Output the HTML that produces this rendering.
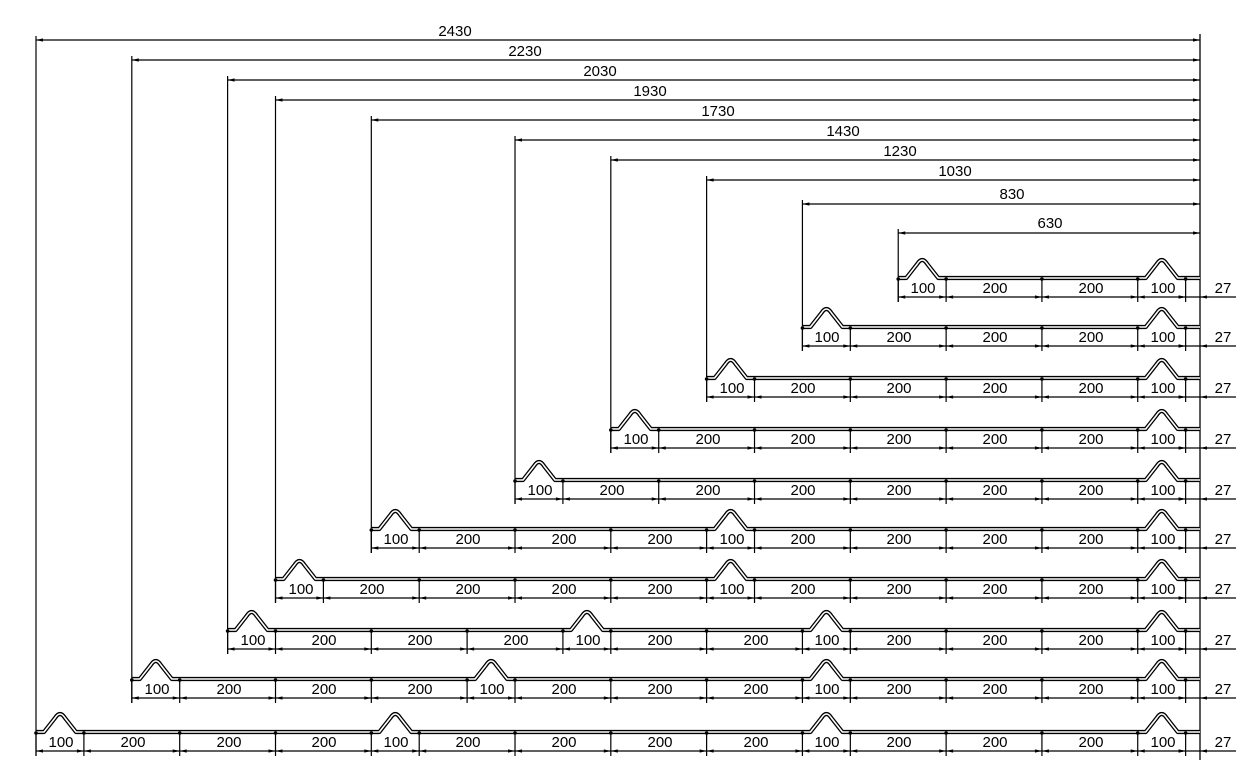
<!DOCTYPE html>
<html><head><meta charset="utf-8"><style>
html,body{margin:0;padding:0;background:#fff;}
svg{display:block;}
text{font-family:"Liberation Sans",Arial,sans-serif;font-size:15px;fill:#000;text-anchor:middle;}
</style></head><body>
<svg id="s" width="1253" height="766" viewBox="0 0 1253 766" xmlns="http://www.w3.org/2000/svg">
<g id="g"></g>
<g id="t">
<text x="455" y="36">2430</text>
<text x="525" y="56">2230</text>
<text x="600" y="76">2030</text>
<text x="650" y="96">1930</text>
<text x="718" y="116">1730</text>
<text x="843" y="136">1430</text>
<text x="900" y="156">1230</text>
<text x="955" y="176">1030</text>
<text x="1012" y="199">830</text>
<text x="1050" y="228">630</text>

<text x="923" y="293">100</text><text x="995" y="293">200</text><text x="1091" y="293">200</text><text x="1163" y="293">100</text><text x="1223" y="293">27</text>

<text x="827" y="342">100</text><text x="899" y="342">200</text><text x="995" y="342">200</text><text x="1091" y="342">200</text><text x="1163" y="342">100</text><text x="1223" y="342">27</text>

<text x="732" y="393">100</text><text x="803" y="393">200</text><text x="899" y="393">200</text><text x="995" y="393">200</text><text x="1091" y="393">200</text><text x="1163" y="393">100</text><text x="1223" y="393">27</text>

<text x="636" y="444">100</text><text x="708" y="444">200</text><text x="803" y="444">200</text><text x="899" y="444">200</text><text x="995" y="444">200</text><text x="1091" y="444">200</text><text x="1163" y="444">100</text><text x="1223" y="444">27</text>

<text x="540" y="495">100</text><text x="612" y="495">200</text><text x="708" y="495">200</text><text x="803" y="495">200</text><text x="899" y="495">200</text><text x="995" y="495">200</text><text x="1091" y="495">200</text><text x="1163" y="495">100</text><text x="1223" y="495">27</text>

<text x="396" y="544">100</text><text x="468" y="544">200</text><text x="564" y="544">200</text><text x="660" y="544">200</text><text x="732" y="544">100</text><text x="803" y="544">200</text><text x="899" y="544">200</text><text x="995" y="544">200</text><text x="1091" y="544">200</text><text x="1163" y="544">100</text><text x="1223" y="544">27</text>

<text x="301" y="594">100</text><text x="372" y="594">200</text><text x="468" y="594">200</text><text x="564" y="594">200</text><text x="660" y="594">200</text><text x="732" y="594">100</text><text x="803" y="594">200</text><text x="899" y="594">200</text><text x="995" y="594">200</text><text x="1091" y="594">200</text><text x="1163" y="594">100</text><text x="1223" y="594">27</text>

<text x="253" y="645">100</text><text x="324" y="645">200</text><text x="420" y="645">200</text><text x="516" y="645">200</text><text x="588" y="645">100</text><text x="660" y="645">200</text><text x="756" y="645">200</text><text x="827" y="645">100</text><text x="899" y="645">200</text><text x="995" y="645">200</text><text x="1091" y="645">200</text><text x="1163" y="645">100</text><text x="1223" y="645">27</text>

<text x="157" y="694">100</text><text x="229" y="694">200</text><text x="324" y="694">200</text><text x="420" y="694">200</text><text x="492" y="694">100</text><text x="564" y="694">200</text><text x="660" y="694">200</text><text x="756" y="694">200</text><text x="827" y="694">100</text><text x="899" y="694">200</text><text x="995" y="694">200</text><text x="1091" y="694">200</text><text x="1163" y="694">100</text><text x="1223" y="694">27</text>

<text x="61" y="747">100</text><text x="133" y="747">200</text><text x="229" y="747">200</text><text x="324" y="747">200</text><text x="396" y="747">100</text><text x="468" y="747">200</text><text x="564" y="747">200</text><text x="660" y="747">200</text><text x="756" y="747">200</text><text x="827" y="747">100</text><text x="899" y="747">200</text><text x="995" y="747">200</text><text x="1091" y="747">200</text><text x="1163" y="747">100</text><text x="1223" y="747">27</text>
</g>
</svg>
<script>
(function(){
var s=1164/2430, R=1200, g=document.getElementById('g'), ns='http://www.w3.org/2000/svg';
function el(n,a){var e=document.createElementNS(ns,n);for(var k in a)e.setAttribute(k,a[k]);g.appendChild(e);return e;}
function line(x1,y1,x2,y2,w){el('line',{x1:x1,y1:y1,x2:x2,y2:y2,stroke:'#000','stroke-width':w||1.2});}
function arrow(x,y,dir){
  el('polygon',{points:x+','+y+' '+(x-dir*7)+','+(y-1.6)+' '+(x-dir*7)+','+(y+1.6),fill:'#000'});}
var rows=[
 [630,297,[1,2,2,1]],
 [830,346,[1,2,2,2,1]],
 [1030,397,[1,2,2,2,2,1]],
 [1230,448,[1,2,2,2,2,2,1]],
 [1430,499,[1,2,2,2,2,2,2,1]],
 [1730,548,[1,2,2,2,1,2,2,2,2,1]],
 [1930,598,[1,2,2,2,2,1,2,2,2,2,1]],
 [2030,649,[1,2,2,2,1,2,2,1,2,2,2,1]],
 [2230,698,[1,2,2,2,1,2,2,2,1,2,2,2,1]],
 [2430,751,[1,2,2,2,1,2,2,2,2,1,2,2,2,1]]
];
var topY={630:233,830:204,1030:180,1230:160,1430:140,1730:120,1930:100,2030:80,2230:60,2430:40};
line(R,34,R,760,1.3);
rows.forEach(function(r){
  var W=r[0],dy=r[1],seq=r[2],L=R-W*s,py=dy-19,ty=topY[W];
  line(L,ty,R,ty,1.2);arrow(L,ty,-1);arrow(R,ty,1);
  line(L,ty-4,L,dy+5,1.2);
  var d='M'+L+' '+py, x=L, bounds=[L];
  seq.forEach(function(k){
    if(k==1){
      d+=' L'+(x+8)+' '+py+' L'+(x+19)+' '+(py-14)+' Q'+(x+24)+' '+(py-22)+' '+(x+29)+' '+(py-14)+' L'+(x+40)+' '+py;
      x+=100*s;
    } else x+=200*s;
    bounds.push(x);
  });
  d+=' L'+R+' '+py;
  el('path',{d:d,fill:'none',stroke:'#000','stroke-width':4.2,'stroke-linejoin':'round'});
  el('path',{d:d,fill:'none',stroke:'#fff','stroke-width':1.6,'stroke-linejoin':'round'});
  line(L,dy,1236,dy,1.2);
  bounds.forEach(function(b,i){
    line(b,py+1,b,dy+5,1.2);
    el('circle',{cx:b,cy:py+1,r:1.8,fill:'#000'});
    if(i>0)arrow(b,dy,1);
    if(i<bounds.length-1)arrow(b,dy,-1);
  });
  var last=bounds[bounds.length-1];
  arrow(last,dy,1);arrow(R,dy,-1);
});
})();
</script>
</body></html>
